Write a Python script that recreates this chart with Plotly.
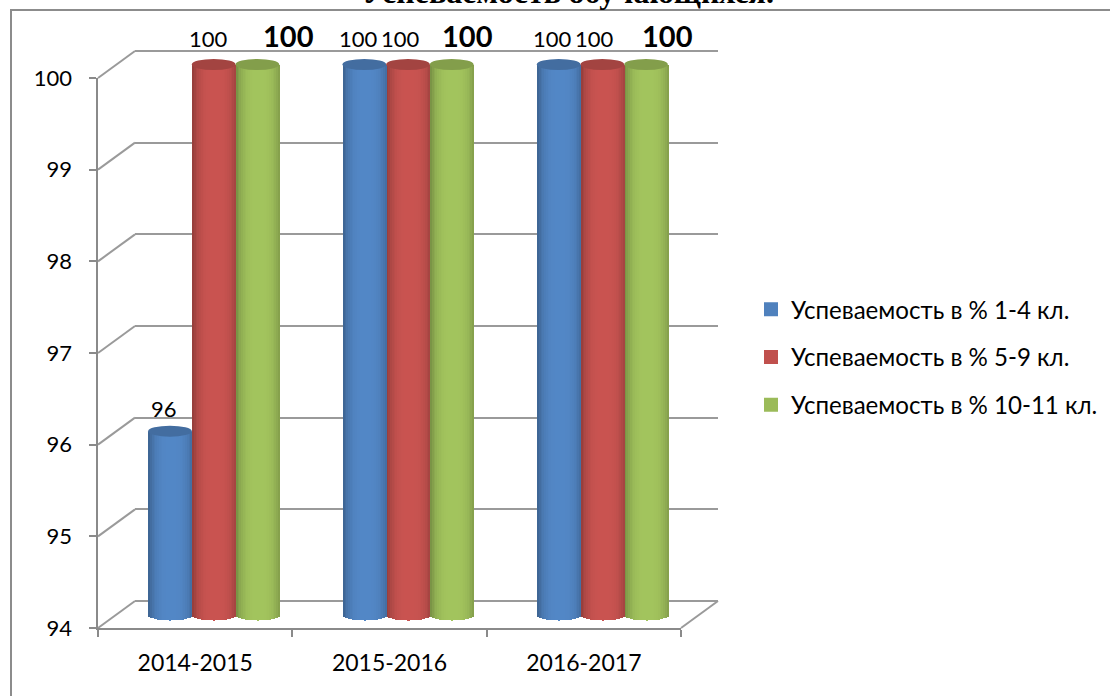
import numpy as np
import plotly.graph_objects as go

title = "Успеваемость обучающихся."
categories = ["2014-2015", "2015-2016", "2016-2017"]
series_names = ["Успеваемость в % 1-4 кл.", "Успеваемость в % 5-9 кл.", "Успеваемость в % 10-11 кл."]
values_1_4 = [96, 100, 100]
values_5_9 = [100, 100, 100]
values_10_11 = [100, 100, 100]
y_ticks = [94, 95, 96, 97, 98, 99, 100]

all_values = [values_1_4, values_5_9, values_10_11]
base_colors = [(79, 129, 189), (192, 80, 77), (155, 187, 89)]
bold_label = [False, False, True]
label_dx = [[-6, -5, 31], [-6, -8, 16], [-6, -8, 21]]   # per category, per series (px)
label_dy = [[-23, -26, -29], [-26, -26, -29], [-26, -26, -29]]

W, H = 1110, 696
L, R, T, B = 50, 718, 30, 648          # plot box in pixels
FONT = "Lato, Carlito, Noto Sans, sans-serif"
GRID = "#9a9a9a"
AXIS = "#8a8a8a"
UNIT = 550 / 6                          # px per value unit
CAT = 583 / 3                           # px per category
DX, DY = 37, 27                         # depth of the 3D box

px = lambda x: (x - L) / (R - L)
py = lambda y: (B - y) / (B - T)
ydom = lambda top, bot: [py(bot), py(top)]

fig = go.Figure()

# back wall (grid only)
pad = 9
fig.update_layout(
    xaxis=dict(domain=[px(98 + DX), px(681 + DX)], range=[0, 3], showgrid=False, zeroline=False,
               showticklabels=False, ticks="", anchor="y"),
    yaxis=dict(domain=ydom(78 - DY - pad, 628 - DY + pad), range=[94 - pad / UNIT, 100 + pad / UNIT],
               tickvals=y_ticks, showgrid=True, gridcolor=GRID, gridwidth=2, zeroline=False,
               showticklabels=False, ticks="", anchor="x"),
    # front axes with ticks and labels
    xaxis2=dict(domain=[px(98), px(681)], type="category", categoryorder="array", categoryarray=categories,
                range=[-0.5, 2.5], tickson="boundaries", ticks="outside", ticklen=7, tickwidth=2,
                tickcolor=AXIS, showline=True, linecolor=AXIS, linewidth=2, showgrid=False, zeroline=False,
                ticklabelstandoff=13,
                tickfont=dict(family=FONT, size=23, color="#000"), anchor="y2"),
    yaxis2=dict(domain=ydom(78, 628), range=[94, 100], tickvals=y_ticks, ticks="outside", ticklen=7,
                tickwidth=2, tickcolor=AXIS, showline=True, linecolor=AXIS, linewidth=2, showgrid=False,
                zeroline=False, showticklabels=False, anchor="x2"),
    # mid-depth axes that carry the cylinders
    xaxis3=dict(domain=[px(98 + DX / 2), px(681 + DX / 2)], type="category", categoryorder="array",
                categoryarray=categories, range=[-0.5, 2.5], visible=False, anchor="y3"),
    yaxis3=dict(domain=ydom(78 - DY / 2 - 20, 628 - DY / 2 + 20), range=[94 - 20 / UNIT, 100 + 20 / UNIT],
                visible=False, anchor="x3"),
    # value labels, set further left than the tick marks
    yaxis4=dict(overlaying="y2", anchor="free", position=px(72), side="left", range=[94, 100], tickvals=y_ticks,
                ticks="", showline=False, showgrid=False, zeroline=False,
                tickfont=dict(family=FONT, size=22, color="#000")),
)

fig.add_trace(go.Scatter(x=[0, 3], y=[94, 100], mode="none", xaxis="x", yaxis="y", showlegend=False, hoverinfo="skip"))
fig.add_trace(go.Scatter(x=categories, y=[94, 94, 94], mode="none", xaxis="x2", yaxis="y2", showlegend=False, hoverinfo="skip"))
fig.add_trace(go.Scatter(x=categories, y=[94, 94, 94], mode="none", xaxis="x2", yaxis="y4", showlegend=False, hoverinfo="skip"))

bar_w = 43.7 / CAT
cap_h = 5.5 / UNIT
N = 25
ts = np.linspace(-1, 1, N + 1)
ts = (ts[:-1] + ts[1:]) / 2


def shade(rgb, t):
    m = 1.05 - 0.25 * np.abs(t - 0.05) ** 3.2
    m = np.clip(m, 0.7, 1.1)
    return "rgb(%d,%d,%d)" % tuple(min(255, int(c * m)) for c in rgb)


shapes = []
for s, vals in enumerate(all_values):
    c = base_colors[s]
    center = (s - 1) * bar_w
    inner = bar_w * 0.8
    fig.add_trace(go.Bar(x=categories, y=[v - 94 for v in vals], base=94, width=inner, offset=center - inner / 2,
                         name=series_names[s], marker=dict(color="rgb(%d,%d,%d)" % c, line=dict(width=2, color="rgb(%d,%d,%d)" % c)),
                         xaxis="x3", yaxis="y3", legendgroup=series_names[s], hoverinfo="skip"))
    for t in ts:
        drop = cap_h * np.sqrt(max(0, 1 - t * t))
        fig.add_trace(go.Bar(x=categories, y=[v - 94 + drop for v in vals], base=94 - drop,
                             width=bar_w / N * 1.15, offset=center + t * bar_w / 2 - bar_w / N * 0.575,
                             marker=dict(color=shade(c, t), line_width=0), xaxis="x3", yaxis="y3",
                             showlegend=False, legendgroup=series_names[s], hoverinfo="skip"))
    cap = "rgb(%d,%d,%d)" % tuple(int(k * 0.85) for k in c)
    for i, v in enumerate(vals):
        shapes.append(dict(type="circle", xref="x3", yref="y3", x0=i + center - bar_w / 2, x1=i + center + bar_w / 2,
                           y0=v - cap_h, y1=v + cap_h, fillcolor=cap, line=dict(width=0), layer="above"))

# side wall and floor lines of the box
line = dict(color=GRID, width=2)
for v in y_ticks:
    y = 628 - (v - 94) * UNIT
    shapes.append(dict(type="line", xref="paper", yref="paper", x0=px(98), x1=px(98 + DX), y0=py(y), y1=py(y - DY),
                       line=line, layer="below"))
shapes.append(dict(type="line", xref="paper", yref="paper", x0=px(681), x1=px(681 + DX), y0=py(628), y1=py(628 - DY),
                   line=line, layer="below"))
# outer frame of the picture
shapes.append(dict(type="line", xref="paper", yref="paper", x0=px(11), x1=px(11), y0=py(10), y1=py(H + 5),
                   line=dict(color="#8c8c8c", width=2), layer="below"))
shapes.append(dict(type="line", xref="paper", yref="paper", x0=px(10), x1=px(W + 5), y0=py(10), y1=py(10),
                   line=dict(color="#8c8c8c", width=2), layer="below"))

annotations = [dict(text="<b>%s</b>" % title, xref="paper", yref="paper", x=px(568), y=py(12), xanchor="center",
                    yanchor="bottom", showarrow=False, font=dict(family="Liberation Serif", size=32, color="#000"))]
for s, vals in enumerate(all_values):
    for i, v in enumerate(vals):
        txt = "<b>%d</b>" % v if bold_label[s] else "%d" % v
        center_px = (s - 1) * 43.7
        annotations.append(dict(text=txt, xref="x3", yref="y3", x=categories[i], y=v, showarrow=False,
                                xshift=center_px + label_dx[i][s], yshift=-label_dy[i][s],
                                font=dict(family=FONT, size=29 if bold_label[s] else 22, color="#000")))

fig.update_layout(
    width=W, height=H, autosize=False, barmode="overlay", bargap=0,
    margin=dict(l=L, r=W - R, t=T, b=H - B, pad=0, autoexpand=False),
    paper_bgcolor="white", plot_bgcolor="rgba(0,0,0,0)",
    shapes=shapes, annotations=annotations, hovermode=False,
    legend=dict(x=px(751), y=py(287), xanchor="left", yanchor="top", traceorder="grouped", tracegroupgap=13.5,
                font=dict(family=FONT, size=24.1, color="#000"), itemwidth=30, bgcolor="rgba(0,0,0,0)", itemclick=False,
                itemdoubleclick=False),
)

fig.write_html("out.html", config=dict(displayModeBar=False),
               post_script="document.body.style.margin='0';document.body.style.overflow='hidden';")
